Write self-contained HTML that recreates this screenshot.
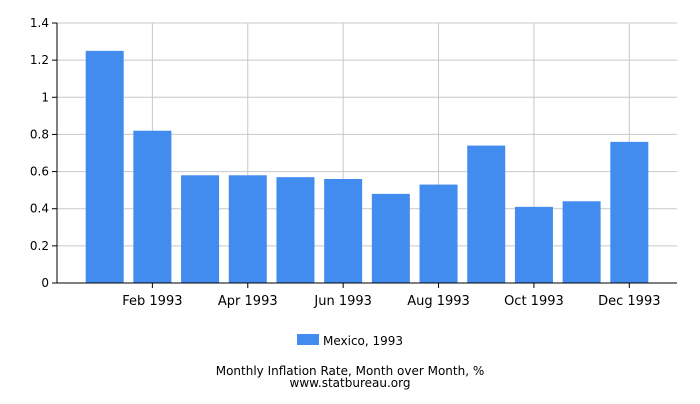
<!DOCTYPE html>
<html><head><meta charset="utf-8"><style>
body{margin:0;background:#fff;font-family:"DejaVu Sans","Liberation Sans",sans-serif;}
svg text{font-family:"DejaVu Sans","Liberation Sans",sans-serif;}
</style></head><body>
<svg id="chart" width="700" height="400" xmlns="http://www.w3.org/2000/svg">
<g id="grid"></g>
<g id="bars"></g>
<g id="axes"></g>
<g>
<rect x="297" y="334" width="22" height="11" fill="#428bef"/>
<text x="323" y="345" font-size="12" fill="#000">Mexico, 1993</text>
</g>
<text x="350" y="375" font-size="12" text-anchor="middle" fill="#000">Monthly Inflation Rate, Month over Month, %</text>
<text x="350" y="387" font-size="12" text-anchor="middle" fill="#000">www.statbureau.org</text>
</svg>
<script>
const categories=["Jan 1993","Feb 1993","Mar 1993","Apr 1993","May 1993","Jun 1993","Jul 1993","Aug 1993","Sep 1993","Oct 1993","Nov 1993","Dec 1993"];
const values=[1.25,0.82,0.58,0.58,0.57,0.56,0.48,0.53,0.74,0.41,0.44,0.76];
const yTicks=[0,0.2,0.4,0.6,0.8,1,1.2,1.4];
const yTickLabels=["0","0.2","0.4","0.6","0.8","1","1.2","1.4"];
const NS="http://www.w3.org/2000/svg";
const x0=57,x1=677,y0=283,y1=23,yMax=1.4;
const slot=(x1-x0)/13;
const y=v=>y0-(v/yMax)*(y0-y1);
const xc=i=>x0+slot*(i+1);
function mk(t,a,p){const e=document.createElementNS(NS,t);for(const k in a)e.setAttribute(k,a[k]);p.appendChild(e);return e;}
const grid=document.getElementById('grid'),bars=document.getElementById('bars'),axes=document.getElementById('axes');
yTicks.forEach((t,i)=>{
 const g=mk('line',{x1:x0,x2:x1,y1:y(t),y2:y(t),stroke:'#c8c8c8','stroke-width':1},grid);
 
 
 const tk=mk('line',{x1:x0-5,x2:x0,y1:y(t),y2:y(t),stroke:'#000'},axes);
 
 
 const l=mk('text',{x:x0-8,y:y(t)+4,'font-size':12,'text-anchor':'end',fill:'#000'},axes);
 l.textContent=yTickLabels[i];
 
 
});
categories.forEach((c,i)=>{
 if(i%2===1){
  const g=mk('line',{x1:xc(i),x2:xc(i),y1:y1,y2:y0,stroke:'#c8c8c8'},grid);
  
  
  const tk=mk('line',{x1:xc(i),x2:xc(i),y1:y0,y2:y0+5,stroke:'#000'},axes);
  
  
  const l=mk('text',{x:xc(i),y:y0+22,'font-size':13,'text-anchor':'middle',fill:'#000'},axes);
  l.textContent=c;
  
  
 }
 const b=mk('rect',{x:xc(i)-19,y:y(values[i]),width:38,height:y0-y(values[i]),fill:'#428bef'},bars);
 
 
});
const ax=mk('line',{x1:x0,x2:x1,y1:y0,y2:y0,stroke:'#000'},axes);


const ay=mk('line',{x1:x0,x2:x0,y1:y1,y2:y0,stroke:'#000'},axes);


</script>
</body></html>
